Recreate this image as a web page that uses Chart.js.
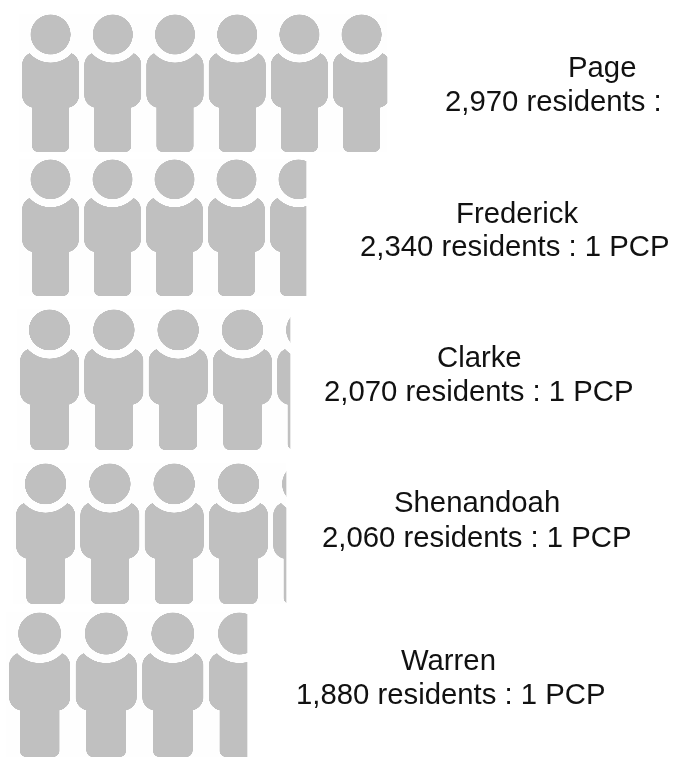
<!DOCTYPE html>
<html>
<head>
<meta charset="utf-8">
<style>
html,body{margin:0;padding:0;background:#fff;overflow:hidden}
canvas{display:block}
</style>
<script src="https://cdn.jsdelivr.net/npm/chart.js@4"></script>
</head>
<body>
<canvas id="c" width="673" height="758"></canvas>
<script>
// Data
const counties = ["Page", "Frederick", "Clarke", "Shenandoah", "Warren"];
const residentsPerPCP = [2970, 2340, 2070, 2060, 1880];
const ratioLabels = ["2,970 residents :", "2,340 residents : 1 PCP", "2,070 residents : 1 PCP", "2,060 residents : 1 PCP", "1,880 residents : 1 PCP"];

// Layout of each pictogram row (pixels)
const rowLeft = [22, 22, 20, 16, 9];
const rowRight = [387, 306, 290, 286, 247];
const rowPitch = [62.2, 62, 64.3, 64.3, 66.6];
const rowTop = [14, 159, 309, 463, 612];
const rowHeight = [138, 137, 141, 141, 145];
const nameX = [568, 456, 437, 394, 401];
const nameY = [77, 223, 367, 512, 670];
const ratioX = [445, 360, 324, 322, 296];
const ratioY = [111, 256, 401, 547, 704];

const W = 673, TILE_W = 62, TILE_H = 138, RES = 4, PAD = 2.5;

function figureTile() {
  const t = document.createElement("canvas");
  t.width = TILE_W * RES; t.height = TILE_H * RES;
  const g = t.getContext("2d");
  g.scale(RES, RES);
  g.fillStyle = "#fefefe";
  g.fillRect(0, 0, TILE_W, TILE_H);
  g.fillStyle = "#c0c0c0";
  g.beginPath();
  g.roundRect(PAD, 38, 57, 56, [13, 13, 13, 13]);
  g.roundRect(PAD + 10, 80, 37, 58, [0, 0, 6, 6]);
  g.fill();
  g.fillStyle = "#fefefe";
  g.beginPath(); g.arc(PAD + 28.5, 20.5, 28, 0, Math.PI * 2); g.fill();
  g.fillStyle = "#c0c0c0";
  g.beginPath(); g.arc(PAD + 28.5, 20.5, 20, 0, Math.PI * 2); g.fill();
  return t;
}

const pageCtx = document.getElementById("c").getContext("2d");
const tile = figureTile();

function rowPattern(i) {
  const p = pageCtx.createPattern(tile, "repeat-x");
  const sx = rowPitch[i] / (TILE_W * RES), sy = rowHeight[i] / (TILE_H * RES);
  const ox = rowLeft[i] - PAD * rowPitch[i] / TILE_W;
  p.setTransform(new DOMMatrix([sx, 0, 0, sy, ox, rowTop[i]]));
  return p;
}

const datasets = counties.map((name, i) => ({
  label: name,
  data: counties.map((_, j) => (j === i ? residentsPerPCP[i] : null)),
  xAxisID: "x" + i,
  backgroundColor: rowPattern(i),
  borderWidth: 0,
  barThickness: 175,
  grouped: false
}));

const scales = {
  y: { type: "category", display: false, grid: { display: false } }
};
counties.forEach((_, i) => {
  const left = rowLeft[i] - PAD * rowPitch[i] / TILE_W;
  const k = (rowRight[i] - left) / residentsPerPCP[i];
  scales["x" + i] = { type: "linear", axis: "x", display: false, min: -left / k, max: (W - left) / k };
});

const labelPlugin = {
  id: "rowLabels",
  afterDraw(chart) {
    const g = chart.ctx;
    g.save();
    g.fillStyle = "#111";
    g.font = '29.3px "Liberation Sans", Arial, sans-serif';
    g.textAlign = "left";
    g.textBaseline = "alphabetic";
    counties.forEach((name, i) => {
      g.fillText(name, nameX[i], nameY[i]);
      g.fillText(ratioLabels[i], ratioX[i], ratioY[i]);
    });
    g.restore();
  }
};

new Chart(pageCtx, {
  type: "bar",
  data: { labels: counties, datasets },
  options: {
    indexAxis: "y",
    responsive: false,
    animation: false,
    layout: { padding: 0 },
    scales,
    plugins: { legend: { display: false }, tooltip: { enabled: false }, title: { display: false } }
  },
  plugins: [labelPlugin]
});
</script>
</body>
</html>
